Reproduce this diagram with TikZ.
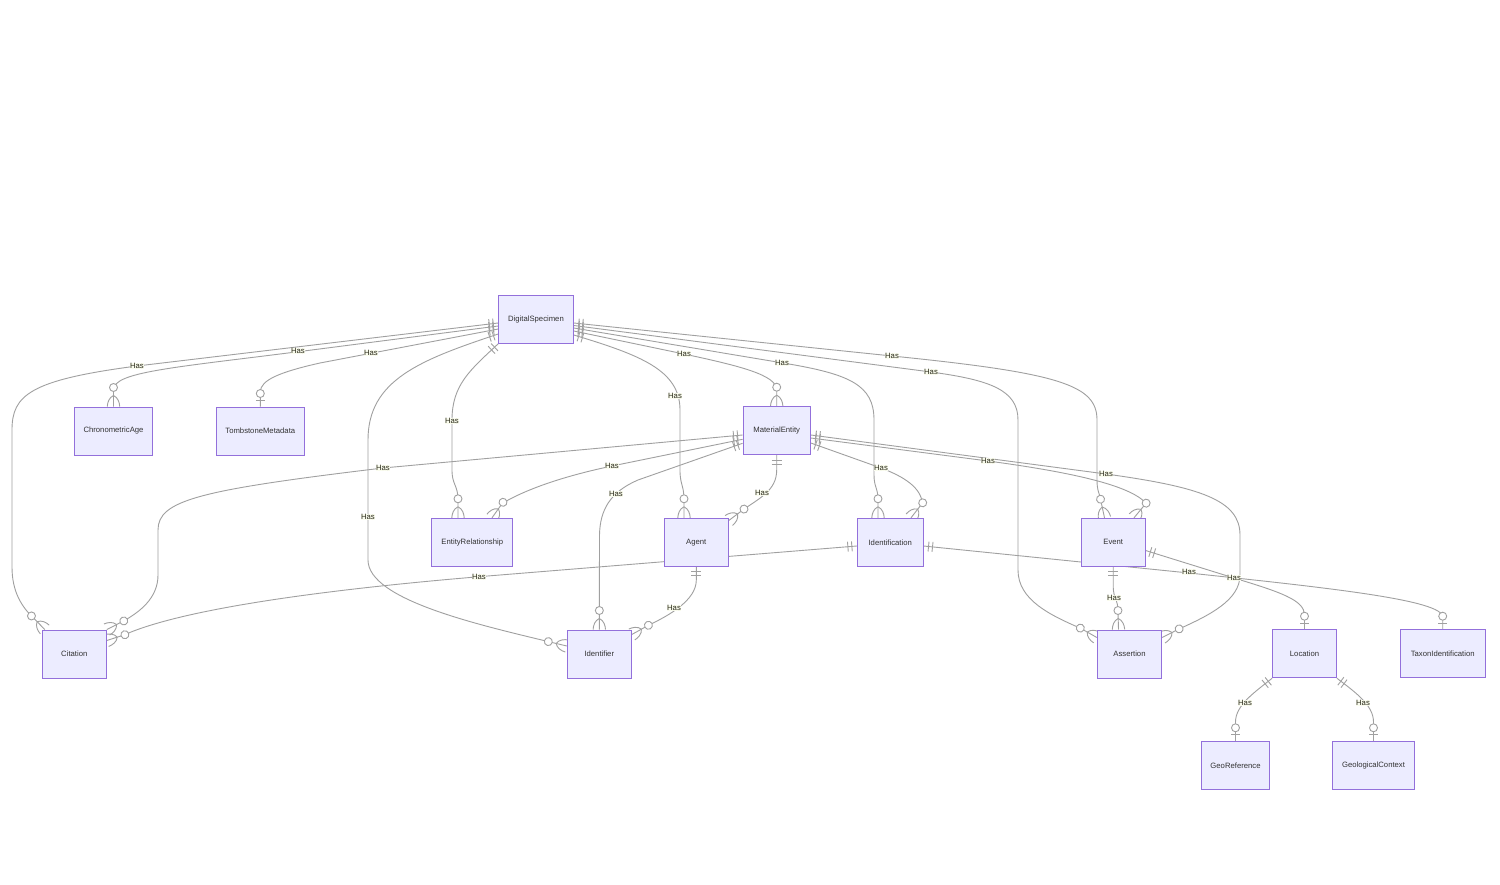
\documentclass[tikz,border=0pt]{standalone}
\usepackage{fontspec}
\newfontfamily\dfont{Liberation Sans}
\usetikzlibrary{decorations.markings}
\pgfdeclarelayer{edges}
\pgfsetlayers{edges,main}
\definecolor{entfill}{HTML}{ECECFF}
\definecolor{entborder}{HTML}{9370DB}
\definecolor{lgray}{HTML}{A0A0A0}
\definecolor{txt}{HTML}{333333}
\definecolor{lblfill}{HTML}{FAFCEE}
\definecolor{lbltxt}{HTML}{2A2A1A}
\newcommand\mkOne{\draw[mk] (5,-5)--(5,5) (9,-5)--(9,5);}
\newcommand\mkZM{\draw[mk] (-11,0) .. controls (-9,4.5) and (-4,6) .. (0,6.2) (-11,0) .. controls (-9,-4.5) and (-4,-6) .. (0,-6.2); \draw[mk,fill=white] (-19,0) circle (4);}
\newcommand\mkZO{\draw[mk] (-6,-4.5)--(-6,4.5); \draw[mk,fill=white] (-13,0) circle (4);}
\tikzset{
  ent/.style={rectangle, draw=entborder, fill=entfill, line width=1pt, minimum height=48pt, inner sep=0pt, text=txt, font=\dfont\fontsize{7.7}{9}\selectfont},
  mk/.style={draw=lgray, line width=0.9pt},
  rel/.style={draw=lgray, line width=0.9pt},
  zm/.style={rel, postaction={decorate, decoration={markings, mark=at position 0 with {\mkOne}, mark=at position 1 with {\mkZM}}}},
  zo/.style={rel, postaction={decorate, decoration={markings, mark=at position 0 with {\mkOne}, mark=at position 1 with {\mkZO}}}},
  lbl/.style={fill=lblfill, inner sep=0.6pt, text=lbltxt, font=\dfont\fontsize{7.7}{9}\selectfont},
}
\begin{document}
\begin{tikzpicture}[x=1pt,y=1pt]
\useasboundingbox (0,0) rectangle (1500,-885);
% entities
\node[ent, minimum width=74.6pt] (ds) at (536,-319.3) {DigitalSpecimen};
\node[ent, minimum width=78.4pt] (ca) at (113.5,-431) {ChronometricAge};
\node[ent, minimum width=88pt] (tm) at (260.3,-431) {TombstoneMetadata};
\node[ent, minimum width=67.3pt] (me) at (776.7,-430.7) {MaterialEntity};
\node[ent, minimum width=81.3pt] (er) at (472.3,-542.3) {EntityRelationship};
\node[ent, minimum width=64pt] (ag) at (696.3,-542.3) {Agent};
\node[ent, minimum width=65.7pt] (idf) at (890.2,-542.3) {Identification};
\node[ent, minimum width=63.7pt] (ev) at (1113.2,-542.3) {Event};
\node[ent, minimum width=64pt] (ci) at (74.3,-654) {Citation};
\node[ent, minimum width=64pt] (idr) at (599.3,-654) {Identifier};
\node[ent, minimum width=64.4pt] (as) at (1129.5,-654) {Assertion};
\node[ent, minimum width=63.7pt] (loc) at (1304.5,-653.7) {Location};
\node[ent, minimum width=85.3pt] (tax) at (1442.7,-653.7) {TaxonIdentification};
\node[ent, minimum width=67.7pt] (geo) at (1235.5,-765.3) {GeoReference};
\node[ent, minimum width=82.3pt] (gc) at (1373.5,-765.3) {GeologicalContext};
\begin{pgfonlayer}{edges}
\fill[white] (0,0) rectangle (1500,-885);
% DigitalSpecimen
\draw[zm] ([yshift=-3.7pt]ds.west) -- (137,-366) .. controls (30,-380) and (12,-395) .. (12,-430) -- (12,-567) .. controls (12,-592) and (22,-607) .. (33,-617.5) -- ([xshift=3pt]ci.north west);
\draw[zm] ([yshift=-6.7pt]ds.west) -- (300,-351.5) .. controls (170,-368) and (113.5,-372) .. (113.5,-390) -- (ca.north);
\draw[zo] ([yshift=-9.7pt]ds.west) -- (320,-363) .. controls (280,-372) and (260.3,-380) .. (260.3,-392) -- (tm.north);
\draw[zm] ([yshift=-14.7pt]ds.west) .. controls (420,-360) and (368,-380) .. (368,-440) -- (368,-560) .. controls (368,-600) and (480,-625) .. (550,-642) -- ([yshift=8pt]idr.west);
\draw[zm] (ds.south west) .. controls (470,-370) and (452,-385) .. (452,-420) -- (452,-470) .. controls (452,-485) and (458,-485) .. (458,-500) -- ([xshift=-14.3pt]er.north);
\draw[zm] ([yshift=-15.7pt]ds.east) .. controls (640,-355) and (680,-370) .. (680,-410) -- (680,-470) .. controls (680,-485) and (684,-485) .. (684,-500) -- ([xshift=-12.3pt]ag.north);
\draw[zm] ([yshift=-11.7pt]ds.east) -- (684,-354) .. controls (740,-366) and (776.7,-375) .. (776.7,-390) -- (me.north);
\draw[zm] ([yshift=-8.7pt]ds.east) -- (783,-363) .. controls (850,-374) and (874,-385) .. (874,-420) -- (874,-475) .. controls (874,-487) and (878,-488) .. (878,-500) -- ([xshift=-12.2pt]idf.north);
\draw[zm] ([yshift=-6.2pt]ds.east) -- (931,-372) .. controls (990,-380) and (1018,-390) .. (1018,-420) -- (1018,-570) .. controls (1018,-600) and (1050,-615) .. (1081,-628.5) -- ([yshift=-8pt]as.north west);
\draw[zm] ([yshift=-3.7pt]ds.east) -- (892,-356) .. controls (1060,-373) and (1097,-385) .. (1097,-420) -- (1097,-480) .. controls (1097,-492) and (1100,-494) .. (1100.7,-500) -- ([xshift=-8.7pt]ev.north);
% MaterialEntity
\draw[zm] ([yshift=-4.3pt]me.west) -- (383,-468) .. controls (200,-490) and (158,-500) .. (158,-530) -- (158,-575) .. controls (158,-598) and (140,-612) .. (122.3,-621.7) -- (ci.north east);
\draw[zm] ([yshift=-8.6pt]me.west) -- (612,-466) .. controls (560,-477) and (525,-490) .. (502.3,-503.3) -- ([xshift=19.7pt]er.north);
\draw[zm] ([yshift=-12.6pt]me.west) -- (638,-480) .. controls (610,-492) and (600,-510) .. (599.5,-535) -- (idr.north);
\draw[zm] (me.south) -- (776.7,-470) .. controls (776.7,-490) and (760,-498) .. (743.7,-509.3) -- ([yshift=-2.7pt]ag.north east);
\draw[zm] ([yshift=-12.3pt]me.east) -- (881,-468) .. controls (905,-477) and (921,-488) .. (922.3,-503.3) -- ([xshift=20.8pt]idf.north);
\draw[zm] ([yshift=-7.3pt]me.east) -- (988,-461) .. controls (1070,-472) and (1130,-485) .. (1146,-503.3) -- ([xshift=20.8pt]ev.north);
\draw[zm] ([yshift=-4.3pt]me.east) -- (1106,-474) .. controls (1200,-487) and (1240,-500) .. (1240,-535) -- (1240,-575) .. controls (1240,-600) and (1210,-615) .. (1178.3,-629.3) -- ([yshift=-8pt]as.north east);
% others
\draw[zm] ([yshift=-3.7pt]idf.west) -- (500,-575) .. controls (300,-591) and (175,-612) .. (124,-635) -- ([yshift=-11pt]ci.north east);
\draw[zm] (ag.south) -- (696.3,-580) .. controls (696.3,-600) and (670,-615) .. (647.7,-625.7) -- ([yshift=-5pt]idr.north east);
\draw[zo] ([yshift=-3.7pt]idf.east) -- (1189,-573) .. controls (1330,-588) and (1442.7,-600) .. (1442.7,-617) -- (tax.north);
\draw[zo] ([yshift=-8.2pt]ev.east) -- (1234,-578) .. controls (1280,-592) and (1304.5,-600) .. (1304.5,-615) -- (loc.north);
\draw[zm] (ev.south) -- (1113.2,-585) .. controls (1113.2,-600) and (1118,-598) .. (1118,-612) -- ([xshift=-11pt]as.north);
\draw[zo] (loc.south west) .. controls (1255,-692) and (1235.5,-705) .. (1235.5,-722) -- (geo.north);
\draw[zo] (loc.south east) .. controls (1355,-692) and (1373.5,-705) .. (1373.5,-722) -- (gc.north);
\end{pgfonlayer}
% labels
\node[lbl] (l1) at (137,-366) {Has};
\node[lbl] (l2) at (298,-351) {Has};
\node[lbl] (l3) at (371,-353) {Has};
\node[lbl] (l4) at (368,-517) {Has};
\node[lbl] (l5) at (452,-421) {Has};
\node[lbl] (l6) at (675,-396) {Has};
\node[lbl] (l7) at (684,-354) {Has};
\node[lbl] (l8) at (782,-363) {Has};
\node[lbl] (l9) at (931,-372) {Has};
\node[lbl] (l10) at (892,-356) {Has};
\node[lbl] (l11) at (383,-468) {Has};
\node[lbl] (l12) at (612,-466) {Has};
\node[lbl] (l13) at (616,-494) {Has};
\node[lbl] (l14) at (762,-493) {Has};
\node[lbl] (l15) at (881,-468) {Has};
\node[lbl] (l16) at (988,-461) {Has};
\node[lbl] (l17) at (1106,-474) {Has};
\node[lbl] (l18) at (479,-577) {Has};
\node[lbl] (l19) at (674,-608) {Has};
\node[lbl] (l20) at (1189,-572) {Has};
\node[lbl] (l21) at (1234,-578) {Has};
\node[lbl] (l22) at (1114,-598) {Has};
\node[lbl] (l23) at (1245,-703) {Has};
\node[lbl] (l24) at (1363,-703) {Has};
\end{tikzpicture}
\end{document}
